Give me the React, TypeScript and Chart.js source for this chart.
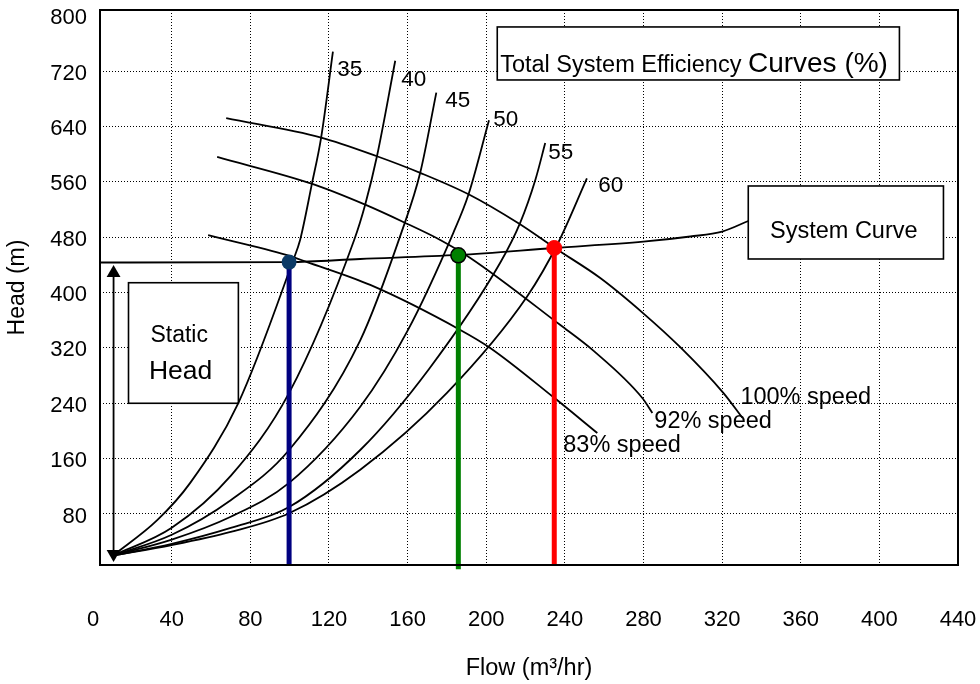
import React, { useEffect, useRef } from 'react';
import { Chart, registerables } from 'chart.js';

Chart.register(...registerables);

const FONT = '"Liberation Sans", Arial, Helvetica, sans-serif';

// Axis ticks
const X_TICKS = [0, 40, 80, 120, 160, 200, 240, 280, 320, 360, 400, 440];
const Y_TICKS = [80, 160, 240, 320, 400, 480, 560, 640, 720, 800];
const X_MIN = 3.5;
const X_MAX = 440;
const Y_MIN = 6.3;
const Y_MAX = 808.3;

// Total system efficiency curves (%), [flow, head]
const EFF_NAMES = ['35', '40', '45', '50', '55', '60'];
const EFF_35: [number, number][] = [[10.2, 20], [32.6, 71], [49.4, 125], [73.8, 240], [101.8, 447], [105.3, 476], [111.3, 557], [116, 624], [122, 748]];
const EFF_40: [number, number][] = [[10.2, 20], [40, 60], [70, 135], [99.7, 255], [132.8, 476], [138.4, 527], [144.4, 597], [153.7, 735]];
const EFF_45: [number, number][] = [[10.2, 20], [40, 50], [70, 100], [99.7, 172.5], [135.9, 331], [157, 488], [166.4, 573], [174.6, 689]];
const EFF_50: [number, number][] = [[10.2, 20], [40, 43], [70, 76], [99.7, 125], [135.9, 235], [160, 345], [183.2, 486], [191, 542], [201.4, 649]];
const EFF_55: [number, number][] = [[10.2, 20], [40, 37], [70, 60], [99.7, 90], [135.9, 172.5], [171, 290], [207.1, 443], [217.3, 501], [225, 563], [230, 616]];
const EFF_60: [number, number][] = [[10.2, 20], [40, 35], [70, 54], [99.7, 81], [135.9, 144], [180, 255], [220.7, 394], [236.6, 472], [251.2, 565]];
const EFF_CURVES = [EFF_35, EFF_40, EFF_45, EFF_50, EFF_55, EFF_60];
const EFF_LABEL_POS: [number, number][] = [[124.2, 721.6], [156.7, 707], [179.1, 676.8], [203.6, 649.4], [231.6, 601.7], [257, 554]];

// Pump curves at different speeds
const SPEED_NAMES = ['100% speed', '92% speed', '83% speed'];
const PUMP_100: [number, number][] = [[67.7, 652], [116, 624], [144.4, 597], [166.4, 573], [191, 542], [216.4, 500], [235.1, 464], [258, 421], [279.9, 370], [298.7, 321], [320.6, 255], [330.3, 219]];
const PUMP_92: [number, number][] = [[63.1, 596], [111.5, 557], [138.4, 527], [157.8, 502], [176.6, 476], [191.9, 450], [237.7, 353], [254.5, 316], [279.4, 247.6], [284.5, 226]];
const PUMP_83: [number, number][] = [[58.5, 483], [98.7, 454], [108.9, 444], [141, 411], [186.8, 346], [202, 320], [234.1, 249], [256.5, 197]];
const PUMP_CURVES = [PUMP_100, PUMP_92, PUMP_83];
const SPEED_LABEL_POS: [number, number][] = [[329.3, 247.6], [285.5, 213], [239.2, 178.3]];

// System curve
const SYSTEM: [number, number][] = [[3.5, 443.4], [99.7, 444], [135.9, 448.5], [185.8, 454.3], [234.6, 464.4], [279.9, 473.5], [303.8, 481], [320, 488], [333.3, 503.4]];

// Operating points [flow, head]
const OP_83: [number, number] = [99.7, 444];
const OP_92: [number, number] = [185.8, 453.8];
const OP_100: [number, number] = [234.6, 464.4];

// Static head arrow
const STATIC_X = 10.4;
const STATIC_ENDS = [22.2, 428.3];

// Annotation boxes in data units [x0, x1, y0, y1]
const TITLE_BOX = [205.6, 410.2, 707.2, 783.8];
const SYSTEM_BOX = [333.3, 432.6, 448.5, 554];
const STATIC_BOX = [18, 73.9, 240, 414.2];

const pts = (a: [number, number][]) => a.map(([x, y]) => ({ x, y }));

const annotPlugin = {
  id: 'annot',
  beforeDatasetsDraw(chart: any) {
    const { ctx, scales } = chart;
    const sx = scales.x, sy = scales.y;
    const box = (b: number[]) => {
      const x0 = sx.getPixelForValue(b[0]);
      const x1 = sx.getPixelForValue(b[1]);
      const y0 = sy.getPixelForValue(b[3]);
      const y1 = sy.getPixelForValue(b[2]);
      ctx.fillStyle = '#fff';
      ctx.fillRect(x0, y0, x1 - x0, y1 - y0);
      ctx.strokeStyle = '#000';
      ctx.lineWidth = 1.6;
      ctx.strokeRect(x0, y0, x1 - x0, y1 - y0);
    };
    ctx.save();
    box(TITLE_BOX);
    box(SYSTEM_BOX);
    box(STATIC_BOX);
    ctx.fillStyle = '#000';
    ctx.textBaseline = 'middle';
    ctx.textAlign = 'center';
    ctx.font = `23px ${FONT}`;
    ctx.fillText('Static', sx.getPixelForValue(43.8), sy.getPixelForValue(337.2));
    ctx.font = `26.5px ${FONT}`;
    ctx.fillText('Head', sx.getPixelForValue(44.5), sy.getPixelForValue(285.2));
    ctx.font = `23.5px ${FONT}`;
    ctx.fillText('System Curve', sx.getPixelForValue(381.9), sy.getPixelForValue(487.5));
    ctx.textAlign = 'left';
    ctx.textBaseline = 'alphabetic';
    const tx = sx.getPixelForValue(207.1);
    const ty = sy.getPixelForValue(719.2);
    ctx.font = `23.5px ${FONT}`;
    const part1 = 'Total System Efficiency ';
    ctx.fillText(part1, tx, ty);
    const w = ctx.measureText(part1).width;
    ctx.font = `28px ${FONT}`;
    ctx.fillText('Curves (%)', tx + w, ty);
    ctx.restore();
  },
  afterDatasetsDraw(chart: any) {
    const { ctx, scales, chartArea } = chart;
    const sx = scales.x, sy = scales.y;
    ctx.save();
    ctx.fillStyle = '#000';
    ctx.textAlign = 'left';
    ctx.textBaseline = 'middle';
    ctx.font = `22.5px ${FONT}`;
    EFF_NAMES.forEach((n, i) => {
      ctx.fillText(n, sx.getPixelForValue(EFF_LABEL_POS[i][0]), sy.getPixelForValue(EFF_LABEL_POS[i][1]));
    });
    ctx.font = `23.5px ${FONT}`;
    SPEED_NAMES.forEach((n, i) => {
      ctx.fillText(n, sx.getPixelForValue(SPEED_LABEL_POS[i][0]), sy.getPixelForValue(SPEED_LABEL_POS[i][1]));
    });
    ctx.strokeStyle = '#000';
    ctx.lineWidth = 2;
    ctx.strokeRect(chartArea.left, chartArea.top, chartArea.right - chartArea.left, chartArea.bottom - chartArea.top);
    ctx.restore();
  },
};

const curveStyle = {
  borderColor: '#000',
  backgroundColor: '#000',
  borderWidth: 1.8,
  pointRadius: 0,
  fill: false,
  cubicInterpolationMode: 'monotone' as const,
};

const zeroPad = (s: any) => {
  s.paddingLeft = 0;
  s.paddingRight = 0;
  s.paddingTop = 0;
  s.paddingBottom = 0;
};

export default function App() {
  const ref = useRef<HTMLCanvasElement | null>(null);

  useEffect(() => {
    if (!ref.current) return;
    const datasets: any[] = [
      {
        data: pts([OP_83]), borderWidth: 0, pointRadius: 7.5, pointBackgroundColor: '#0b3a66',
        pointBorderColor: '#0b3a66', showLine: false,
      },
      {
        data: pts([OP_92]), pointRadius: 7.5, pointBackgroundColor: '#008000', pointBorderWidth: 1.5,
        pointBorderColor: '#000', showLine: false,
      },
      {
        data: pts([OP_100]), pointRadius: 7.5, pointBackgroundColor: '#ff0000', pointBorderColor: '#ff0000',
        showLine: false,
      },
      { data: pts([[OP_83[0], 0], OP_83]), borderColor: '#000080', borderWidth: 5, pointRadius: 0 },
      { data: pts([[OP_92[0], 0], OP_92]), borderColor: '#008000', borderWidth: 5, pointRadius: 0, clip: false },
      { data: pts([[OP_100[0], 0], OP_100]), borderColor: '#ff0000', borderWidth: 5, pointRadius: 0 },
      {
        data: STATIC_ENDS.map((y) => ({ x: STATIC_X, y })), borderColor: '#000', borderWidth: 1.8,
        pointStyle: 'triangle', pointRadius: 8, pointRotation: [180, 0], pointBackgroundColor: '#000',
        pointBorderColor: '#000', pointBorderWidth: 0,
      },
      { ...curveStyle, data: pts(SYSTEM) },
      ...PUMP_CURVES.map((c) => ({ ...curveStyle, data: pts(c) })),
      ...EFF_CURVES.map((c) => ({ ...curveStyle, data: pts(c) })),
    ];

    const gridColor = (hidden: number[]) => (c: any) =>
      c.tick && hidden.includes(c.tick.value) ? 'rgba(0,0,0,0)' : '#000';

    const chart = new Chart(ref.current, {
      type: 'line',
      data: { datasets },
      options: {
        animation: false,
        responsive: false,
        maintainAspectRatio: false,
        devicePixelRatio: 1,
        layout: { padding: { left: 0, right: 22, top: 10, bottom: 0 } },
        plugins: { legend: { display: false }, tooltip: { enabled: false } },
        elements: { line: { tension: 0 } },
        scales: {
          x: {
            type: 'linear',
            min: X_MIN,
            max: X_MAX,
            afterBuildTicks: (s: any) => { s.ticks = X_TICKS.map((v) => ({ value: v })); },
            afterFit: (s: any) => { s.height = 119; zeroPad(s); },
            ticks: {
              autoSkip: false, maxRotation: 0, padding: 42, color: '#000',
              font: { family: FONT, size: 22 },
              callback: (v: any) => String(v),
            },
            grid: { color: gridColor([0, 440]), lineWidth: 1, drawTicks: false },
            border: { display: false, dash: [1, 2] },
            title: {
              display: true, text: 'Flow (m³/hr)', color: '#000',
              font: { family: FONT, size: 23.5 }, padding: { top: 0, bottom: 1 },
            },
          },
          y: {
            type: 'linear',
            min: Y_MIN,
            max: Y_MAX,
            afterBuildTicks: (s: any) => { s.ticks = Y_TICKS.map((v) => ({ value: v })); },
            afterFit: (s: any) => { s.width = 100; zeroPad(s); },
            ticks: {
              autoSkip: false, padding: 13, color: '#000', labelOffset: 2.5,
              font: { family: FONT, size: 22 },
              callback: (v: any) => String(v),
            },
            grid: { color: gridColor([800]), lineWidth: 1, drawTicks: false },
            border: { display: false, dash: [1, 2] },
            title: {
              display: true, text: 'Head (m)', color: '#000',
              font: { family: FONT, size: 23 }, padding: { top: 4, bottom: 0 },
            },
          },
        },
      },
      plugins: [annotPlugin],
    } as any);
    return () => chart.destroy();
  }, []);

  return (
    <div style={{ position: 'absolute', left: 0, top: 0, width: 980, height: 684, background: '#fff' }}>
      <canvas ref={ref} width={980} height={684} style={{ display: 'block' }} />
    </div>
  );
}
